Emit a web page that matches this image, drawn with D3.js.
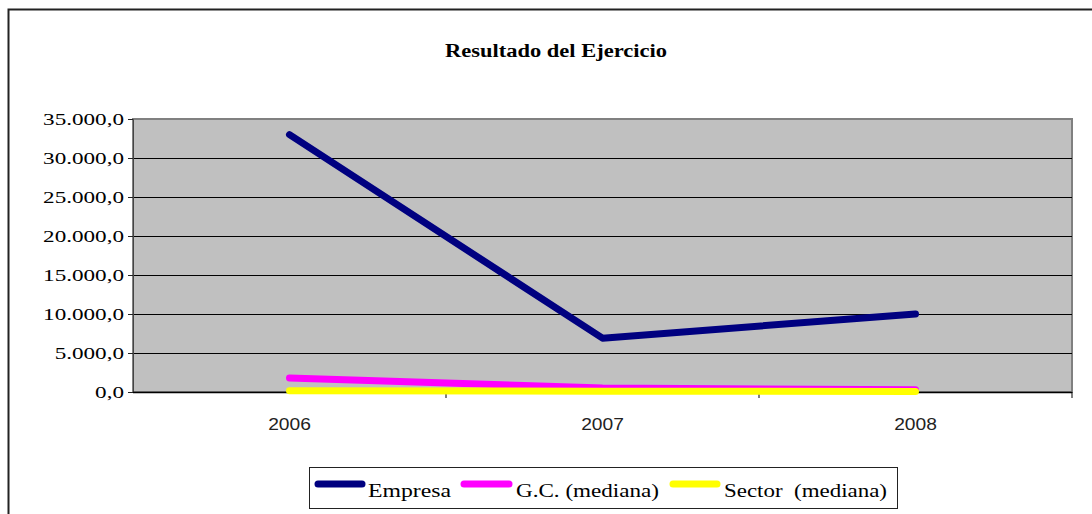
<!DOCTYPE html>
<meta charset="utf-8">
<html>
<head>
<title>Resultado del Ejercicio</title>
<style>
  body { margin: 0; background: #fff; }
</style>
</head>
<body>
<script src="https://cdnjs.cloudflare.com/ajax/libs/d3/7.8.5/d3.min.js"></script>
<script>
// datos
var years = ["2006", "2007", "2008"];
var empresa = [33000, 6900, 10000];
var gc = [1800, 500, 300];
var sector = [150, 100, 80];
var yTicks = [0, 5000, 10000, 15000, 20000, 25000, 30000, 35000];

var seriesNames = ["Empresa", "G.C. (mediana)", "Sector  (mediana)"];
var seriesColors = ["#000080", "#ff00ff", "#ffff00"];
var seriesData = [empresa, gc, sector];

var SERIF = "'Liberation Serif', 'Times New Roman', serif";
var SANS = "'Liberation Sans', Arial, sans-serif";

var W = 1092, H = 514;
var svg = d3.select("body").append("svg")
    .attr("width", W).attr("height", H);

// estira el texto a lo ancho (como en la imagen original)
function stretch(sel, f) {
    sel.each(function () {
        var w = this.getComputedTextLength();
        d3.select(this).attr("textLength", w * f).attr("lengthAdjust", "spacingAndGlyphs");
    });
}

// marco exterior
svg.append("rect")
    .attr("x", 8.5).attr("y", 9.5)
    .attr("width", W + 20).attr("height", H + 20)
    .attr("fill", "#fff").attr("stroke", "#222").attr("stroke-width", 2);

svg.append("text")
    .attr("x", 556).attr("y", 57)
    .attr("text-anchor", "middle")
    .attr("font-family", SERIF)
    .attr("font-weight", "bold").attr("font-size", 18)
    .attr("textLength", 222).attr("lengthAdjust", "spacingAndGlyphs")
    .text("Resultado del Ejercicio");

var pLeft = 133, pRight = 1072, pTop = 119, pBottom = 392;

var x = d3.scaleBand().domain(years).range([pLeft, pRight]);
var y = d3.scaleLinear().domain([0, 35000]).range([pBottom, pTop]);

// área de trazado
svg.append("rect")
    .attr("x", pLeft).attr("y", pTop)
    .attr("width", pRight - pLeft).attr("height", pBottom - pTop)
    .attr("fill", "#c0c0c0").attr("stroke", "#808080").attr("stroke-width", 2);

// líneas de cuadrícula
svg.selectAll("line.grid")
    .data(yTicks.filter(function (d) { return d > 0 && d < 35000; }))
    .enter().append("line")
    .attr("x1", pLeft).attr("x2", pRight)
    .attr("y1", function (d) { return Math.round(y(d)) + 0.5; })
    .attr("y2", function (d) { return Math.round(y(d)) + 0.5; })
    .attr("stroke", "#000").attr("stroke-width", 1);

var fmt = function (d) {
    return d3.format(",.1f")(d).replace(/,/g, "#").replace(".", ",").replace(/#/g, ".");
};

// eje Y
var yAxis = svg.append("g")
    .attr("transform", "translate(" + pLeft + ",0)")
    .call(d3.axisLeft(y).tickValues(yTicks).tickSize(5).tickPadding(4).tickFormat(fmt));
yAxis.select(".domain").attr("stroke", "#444");
yAxis.selectAll(".tick line").attr("stroke", "#222");
yAxis.selectAll("text")
    .attr("font-family", SERIF)
    .attr("font-size", 17).attr("fill", "#000")
    .call(stretch, 1.36);

// eje X
var bounds = [x("2007"), x("2008"), pRight];
svg.append("line")
    .attr("x1", pLeft).attr("x2", pRight)
    .attr("y1", pBottom + 0.5).attr("y2", pBottom + 0.5)
    .attr("stroke", "#000").attr("stroke-width", 1.5);
svg.selectAll("line.xtick")
    .data(bounds).enter().append("line")
    .attr("x1", function (d) { return d; }).attr("x2", function (d) { return d; })
    .attr("y1", pBottom).attr("y2", pBottom + 6)
    .attr("stroke", "#000");
svg.selectAll("text.xlab")
    .data(years).enter().append("text")
    .attr("x", function (d) { return x(d) + x.bandwidth() / 2; })
    .attr("y", 430)
    .attr("text-anchor", "middle")
    .attr("font-family", SANS)
    .attr("font-size", 16).attr("fill", "#222")
    .text(function (d) { return d; })
    .call(stretch, 1.2);

// series
var line = d3.line()
    .x(function (d, i) { return x(years[i]) + x.bandwidth() / 2; })
    .y(function (d) { return y(d); });

var widths = [7, 7, 7];
seriesData.forEach(function (s, k) {
    svg.append("path")
        .attr("d", line(s))
        .attr("fill", "none")
        .attr("stroke", seriesColors[k])
        .attr("stroke-width", widths[k])
        .attr("stroke-linecap", "round")
        .attr("stroke-linejoin", "round");
});

// leyenda
svg.append("rect")
    .attr("x", 309.5).attr("y", 467.5)
    .attr("width", 588).attr("height", 41)
    .attr("fill", "#fff").attr("stroke", "#222").attr("stroke-width", 1);

var legLine = [[318, 362], [464, 509], [673, 717]];
var legText = [368, 516, 724];
var legWidth = [83, 143, 163];
seriesNames.forEach(function (n, k) {
    svg.append("line")
        .attr("x1", legLine[k][0]).attr("x2", legLine[k][1])
        .attr("y1", 484).attr("y2", 484)
        .attr("stroke", seriesColors[k]).attr("stroke-width", 7)
        .attr("stroke-linecap", "round");
    svg.append("text")
        .attr("x", legText[k]).attr("y", 497)
        .attr("font-family", SERIF)
        .attr("font-size", 19).attr("fill", "#000")
        .style("white-space", "pre")
        .attr("textLength", legWidth[k]).attr("lengthAdjust", "spacingAndGlyphs")
        .text(n);
});
</script>
</body>
</html>
